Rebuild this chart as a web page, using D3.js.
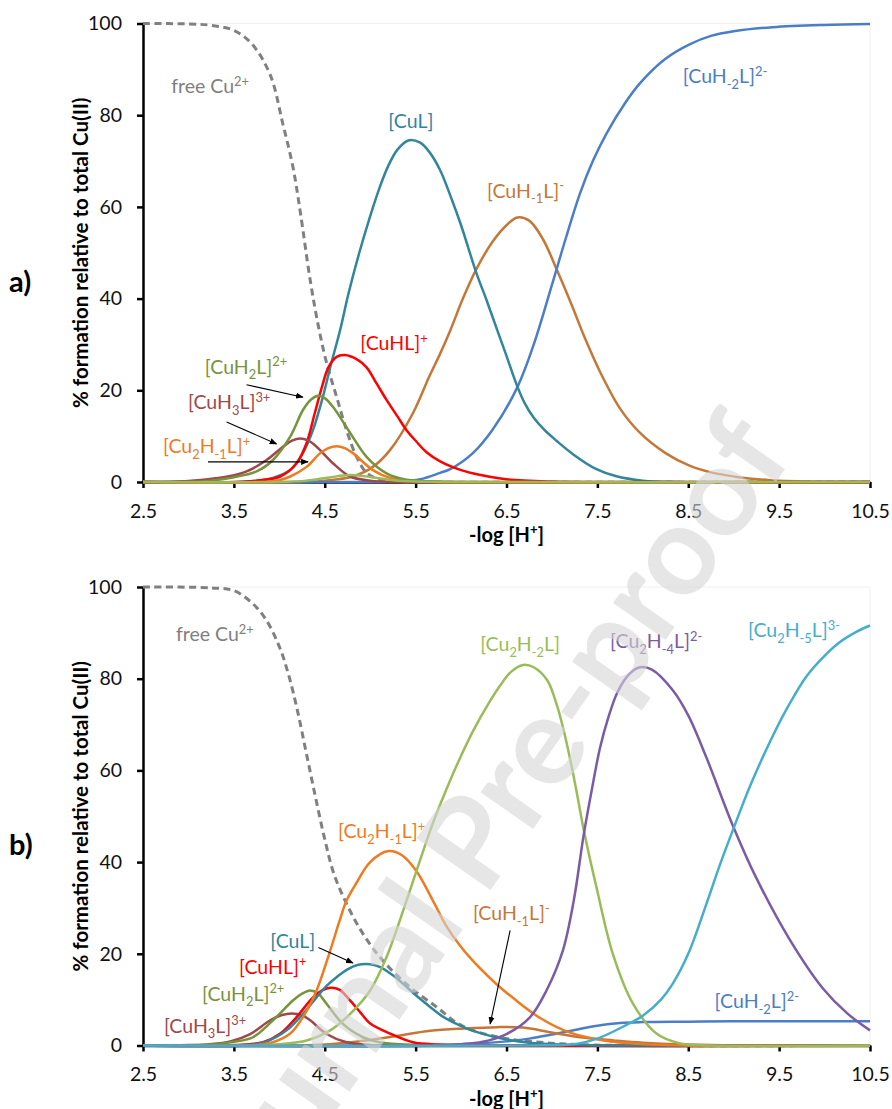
<!DOCTYPE html>
<html>
<head>
<meta charset="utf-8">
<script src="https://cdn.jsdelivr.net/npm/d3@7"></script>
<style>
  body { margin: 0; background: #fff; }
  svg text { font-family: Lato, "Open Sans", sans-serif; }
</style>
</head>
<body>
<div id="main"></div>
<script>
// ---------- data: [ -log[H+], % of total Cu(II) ] ----------
// panel a)
const aFree = [[2.5,100],[3.0,99.9],[3.25,99.6],[3.5,98.5],[3.7,95.5],[3.9,88.8],[4.04,78],[4.15,68.7],[4.23,59],[4.34,44],[4.43,34],[4.52,26],[4.63,18.6],[4.74,11.3],[4.85,5.5],[4.96,2],[5.1,0.6],[5.3,0.1],[5.6,0],[10.5,0]];
const aCuL = [[2.5,0],[3.6,0],[3.93,0.9],[4.12,2.6],[4.26,6.3],[4.37,11.3],[4.48,18.6],[4.56,25],[4.67,33.2],[4.76,41],[4.88,50],[5.0,58],[5.1,64],[5.2,69],[5.3,72.5],[5.42,74.5],[5.55,74],[5.65,72],[5.77,68],[5.9,61.5],[6.0,56],[6.17,45.5],[6.28,39.7],[6.4,33],[6.5,27.5],[6.61,21.3],[6.7,17.2],[6.8,14],[6.92,11.3],[7.05,9],[7.25,5.8],[7.49,2.8],[7.7,1.3],[8.0,0.3],[8.4,0],[10.5,0]];
const aCuH1L = [[2.5,0],[4.3,0],[4.6,0.5],[4.81,1.2],[5.03,3.3],[5.22,7],[5.47,15],[5.65,23],[5.77,28],[5.88,33],[6.02,40],[6.17,46.5],[6.35,52.5],[6.5,56],[6.62,57.7],[6.75,57],[6.9,53],[7.06,46],[7.22,38.5],[7.35,32],[7.53,24],[7.75,16],[7.97,10.7],[8.25,6.3],[8.52,3.5],[8.75,2.1],[9.07,1.0],[9.4,0.4],[10.0,0.05],[10.5,0]];
const aCuH2L_ = [[2.5,0],[5.0,0],[5.3,0.1],[5.55,0.6],[5.77,2],[5.88,2.8],[6.13,6.3],[6.35,11.5],[6.62,20.7],[6.8,30],[7.0,43],[7.15,53],[7.31,63],[7.45,70],[7.6,76],[7.8,82.5],[7.97,87],[8.25,92.3],[8.52,95.5],[8.75,97.3],[9.0,98.3],[9.43,99.2],[10.0,99.7],[10.5,99.9]];
const aCuHL = [[2.5,0],[3.5,0],[3.75,0.3],[4.01,1.2],[4.19,4.1],[4.3,8.5],[4.39,15],[4.47,20.8],[4.54,25],[4.63,27.3],[4.72,27.7],[4.85,26.8],[4.96,25],[5.07,21.5],[5.18,17.9],[5.3,14.3],[5.4,11.3],[5.5,9],[5.62,6.5],[5.77,4.5],[6.0,2.6],[6.2,1.6],[6.5,0.6],[7.0,0.1],[7.5,0],[10.5,0]];
const aCuH2L = [[2.5,0],[3.0,0.05],[3.25,0.3],[3.49,1],[3.75,2.3],[3.93,4.8],[4.12,9.9],[4.26,15.7],[4.35,18],[4.43,18.8],[4.5,18.3],[4.59,16.4],[4.78,10.7],[4.96,5.5],[5.18,1.9],[5.4,0.5],[5.75,0.1],[6.0,0],[10.5,0]];
const aCuH3L = [[2.5,0],[3.0,0.2],[3.3,0.8],[3.49,1.4],[3.64,2.3],[3.86,4.8],[4.04,7.7],[4.14,9.0],[4.23,9.5],[4.32,9.0],[4.41,7.7],[4.59,4.1],[4.78,1.2],[5.0,0.3],[5.25,0],[10.5,0]];
const aCu2H1L = [[2.5,0],[3.75,0],[4.0,0.4],[4.12,1.2],[4.3,3.3],[4.45,6.3],[4.54,7.4],[4.63,7.8],[4.72,7.4],[4.81,6.3],[5.03,2.6],[5.22,0.9],[5.5,0.2],[5.75,0],[10.5,0]];
const aCu2H2L = [[2.5,0],[4.0,0],[4.3,0.3],[4.55,1],[4.78,1.5],[5.0,1.1],[5.25,0.4],[5.5,0.1],[6.0,0],[10.5,0]];

// panel b)
const bFree = [[2.5,100],[3.25,99.8],[3.5,99.2],[3.7,96.5],[3.85,93],[4.0,87],[4.1,81],[4.2,73],[4.3,63.5],[4.4,54],[4.5,45],[4.6,37.5],[4.75,30.5],[4.92,24.4],[5.14,18.5],[5.44,12.7],[5.73,8.4],[5.95,5],[6.13,3.3],[6.5,1.5],[6.87,0.7],[7.3,0.2],[8.0,0],[10.5,0]];
const bCu2H1L = [[2.5,0],[3.75,0.1],[3.93,0.7],[4.12,2.6],[4.26,6.2],[4.41,12],[4.56,20.7],[4.66,27],[4.74,31.6],[4.85,35.5],[5.0,40],[5.2,42.4],[5.35,41.5],[5.51,38],[5.69,31.6],[5.84,26],[6.0,21.5],[6.21,16.8],[6.4,13.2],[6.57,10.4],[6.87,6],[7.2,2.8],[7.57,1.1],[8.0,0.3],[8.5,0],[10.5,0]];
const bCu2H2L = [[2.5,0],[3.75,0],[4.0,0.3],[4.3,1.1],[4.56,3.3],[4.78,6.9],[5.0,12],[5.18,19.3],[5.4,31.6],[5.55,40.5],[5.69,48.5],[5.8,54],[5.95,61],[6.13,68.5],[6.3,74.5],[6.43,78.5],[6.55,81.5],[6.68,83],[6.8,82.5],[6.95,79.6],[7.05,74.5],[7.12,69.5],[7.2,62.5],[7.27,55.5],[7.35,47],[7.49,34.5],[7.67,20],[7.89,9.2],[8.15,2.6],[8.4,0.5],[8.75,0],[10.5,0]];
const bCu2H4L = [[2.5,0],[5.75,0],[6.0,0.3],[6.21,0.7],[6.5,2.5],[6.76,6.2],[6.94,12],[7.12,20.7],[7.24,31.6],[7.35,46],[7.45,57],[7.53,65],[7.62,71.5],[7.72,77],[7.85,81],[7.97,82.5],[8.1,82],[8.33,77.5],[8.5,72],[8.7,62.8],[8.99,48],[9.25,36.5],[9.62,23],[9.98,12.5],[10.25,7],[10.5,3.3]];
const bCu2H5L = [[2.5,0],[6.75,0],[7.25,0.3],[7.5,1.5],[7.82,4.5],[8.0,6.5],[8.2,10],[8.33,13.5],[8.5,20],[8.7,30.9],[8.85,39.5],[9.03,49],[9.2,57.5],[9.43,67.5],[9.6,74],[9.8,80.5],[10.0,85],[10.17,88],[10.35,90.2],[10.5,91.6]];
const bCuH1L = [[2.5,0],[4.25,0],[4.5,0.2],[4.78,0.7],[5.0,1.2],[5.33,2.2],[5.66,3.2],[6.03,3.7],[6.39,4.0],[6.68,3.9],[6.98,2.9],[7.31,1.8],[7.68,1.1],[8.0,0.6],[8.5,0.2],[9.0,0],[10.5,0]];
const bCuH2L_ = [[2.5,0],[5.5,0],[6.0,0.3],[6.5,0.9],[6.75,1.5],[7.0,2.4],[7.25,3.4],[7.5,4.3],[7.75,4.9],[8.0,5.1],[8.5,5.2],[9.0,5.3],[10.5,5.3]];
const bCuL = [[2.5,0],[3.6,0],[3.85,0.8],[4.08,3.3],[4.26,6.9],[4.41,10.5],[4.52,13],[4.63,14.9],[4.75,16.6],[4.87,17.6],[5.0,17.7],[5.11,17.1],[5.25,15.3],[5.36,13.5],[5.5,11],[5.66,8.4],[5.8,6.3],[5.95,4.7],[6.1,3.4],[6.32,2.1],[6.5,1.3],[6.75,0.6],[7.0,0.3],[7.5,0],[10.5,0]];
const bCuHL = [[2.5,0],[3.5,0.1],[3.82,0.7],[4.01,2.6],[4.19,6.2],[4.37,10.5],[4.47,12],[4.56,12.6],[4.66,12.2],[4.78,9.8],[4.9,7],[5.0,4.8],[5.22,2.6],[5.47,0.7],[5.75,0.2],[6.0,0],[10.5,0]];
const bCuH2L = [[2.5,0],[3.25,0.2],[3.5,0.8],[3.71,1.8],[3.93,5.5],[4.15,9.8],[4.25,11.3],[4.34,12],[4.43,11.3],[4.52,9.1],[4.7,4.7],[4.92,1.8],[5.1,0.7],[5.5,0.1],[6.0,0],[10.5,0]];
const bCuH3L = [[2.5,0],[3.0,0.1],[3.25,0.3],[3.46,0.9],[3.68,2.5],[3.9,5.5],[4.02,6.6],[4.14,7.0],[4.25,6.6],[4.34,5.5],[4.52,2.5],[4.74,0.7],[5.0,0.1],[5.5,0],[10.5,0]];

const xTicks = [2.5, 3.5, 4.5, 5.5, 6.5, 7.5, 8.5, 9.5, 10.5];
const yTicks = [0, 20, 40, 60, 80, 100];

// colours per species
const col = {
  free: "#808080", CuL: "#31859C", CuH1L: "#C47838", CuH2L_: "#4A7EC6",
  CuHL: "#FF0000", CuH2L: "#77933C", CuH3L: "#A0474A", Cu2H1L: "#EE7B1F",
  Cu2H2L: "#9BBB59", Cu2H4L: "#7A5BA6", Cu2H5L: "#45AECB"
};

// ---------- layout ----------
const width = 892, height = 1109;
const labelSize = 19.5;
const svg = d3.select("#main").append("svg")
  .attr("width", width).attr("height", height);

const x = d3.scaleLinear().domain([2.5, 10.5]).range([143, 870]);
const line = (y) => d3.line().x(d => x(d[0])).y(d => y(d[1]))
  .curve(d3.curveCatmullRom.alpha(0.5));

// writes "[CuH_{-2}L]^{2-}" as tspans with sub / superscripts
function richText(t, str, fs) {
  const parts = str.split(/([_^]\{[^}]*\})/).filter(s => s.length);
  let cur = 0;
  parts.forEach(p => {
    let target = 0, txt = p, size = fs;
    if (p[0] === "_") { target = 0.28 * fs; txt = p.slice(2, -1); size = fs * 0.66; }
    else if (p[0] === "^") { target = -0.38 * fs; txt = p.slice(2, -1); size = fs * 0.66; }
    t.append("tspan").attr("dy", target - cur).attr("font-size", size).text(txt);
    cur = target;
  });
}

svg.append("defs").append("marker")
  .attr("id", "arr").attr("viewBox", "0 0 10 10").attr("refX", 9).attr("refY", 5)
  .attr("markerWidth", 7).attr("markerHeight", 7).attr("orient", "auto")
  .append("path").attr("d", "M0,1 L10,5 L0,9 Z").attr("fill", "#000");

function panel(top, letter, series, labels, arrows) {
  const y = d3.scaleLinear().domain([0, 100]).range([top + 458.5, top]);
  const g = svg.append("g");

  // faint plot area frame
  g.append("rect").attr("x", x(2.5)).attr("y", y(100))
    .attr("width", x(10.5) - x(2.5)).attr("height", y(0) - y(100))
    .attr("fill", "none").attr("stroke", "#f0f0f0");

  const xa = g.append("g").attr("transform", `translate(0,${y(0)})`)
    .call(d3.axisBottom(x).tickValues(xTicks).tickFormat(d3.format(".1f"))
      .tickSize(6).tickSizeOuter(0).tickPadding(16));
  const ya = g.append("g").attr("transform", `translate(${x(2.5)},0)`)
    .call(d3.axisLeft(y).tickValues(yTicks).tickSize(6).tickSizeOuter(0).tickPadding(15));
  [xa, ya].forEach(a => {
    a.select(".domain").attr("stroke", "#000").attr("stroke-width", 2.5);
    a.selectAll(".tick line").attr("stroke", "#000").attr("stroke-width", 2.5);
    a.selectAll(".tick text").attr("font-size", 19.5).attr("fill", "#111")
      .style("font-family", "Lato, sans-serif");
  });

  // axis titles
  const xt = g.append("text").attr("x", (x(2.5) + x(10.5)) / 2).attr("y", y(0) + 60)
    .attr("text-anchor", "middle").attr("font-size", 20).attr("font-weight", "bold");
  richText(xt, "-log [H^{+}]", 20);
  g.append("text")
    .attr("transform", `translate(88,${(y(0) + y(100)) / 2}) rotate(-90)`)
    .attr("text-anchor", "middle").attr("font-size", 20.5).attr("font-weight", "bold")
    .text("% formation relative to total Cu(II)");
  g.append("text").attr("x", 9).attr("y", top + 268).attr("font-size", 29)
    .attr("font-weight", "bold").text(letter);

  // curves
  series.forEach(s => {
    g.append("path").datum(s.data).attr("d", line(y))
      .attr("fill", "none").attr("stroke", col[s.key])
      .attr("stroke-width", s.dash ? 3 : 2.5)
      .attr("stroke-dasharray", s.dash ? "7,4.5" : null);
  });

  // species labels
  labels.forEach(l => {
    const t = g.append("text").attr("x", x(l.at[0])).attr("y", y(l.at[1]))
      .attr("fill", col[l.key]).attr("font-size", labelSize);
    richText(t, l.text, labelSize);
  });
  arrows.forEach(a => {
    g.append("line").attr("x1", x(a[0][0])).attr("y1", y(a[0][1]))
      .attr("x2", x(a[1][0])).attr("y2", y(a[1][1]))
      .attr("stroke", "#000").attr("stroke-width", 1.1).attr("marker-end", "url(#arr)");
  });
}

panel(23.5, "a)",
  [
    { key: "free", data: aFree, dash: true },
    { key: "CuH1L", data: aCuH1L }, { key: "CuH2L_", data: aCuH2L_ },
    { key: "CuL", data: aCuL }, { key: "CuHL", data: aCuHL },
    { key: "CuH3L", data: aCuH3L }, { key: "Cu2H1L", data: aCu2H1L },
    { key: "CuH2L", data: aCuH2L }, { key: "Cu2H2L", data: aCu2H2L }
  ],
  [
    { key: "free", text: "free Cu^{2+}", at: [2.81, 84.8] },
    { key: "CuL", text: "[CuL]", at: [5.2, 77.2] },
    { key: "CuH1L", text: "[CuH_{-1}L]^{-}", at: [6.285, 62] },
    { key: "CuH2L_", text: "[CuH_{-2}L]^{2-}", at: [8.44, 87] },
    { key: "CuHL", text: "[CuHL]^{+}", at: [4.89, 28.8] },
    { key: "CuH2L", text: "[CuH_{2}L]^{2+}", at: [3.18, 23.6] },
    { key: "CuH3L", text: "[CuH_{3}L]^{3+}", at: [2.995, 15.9] },
    { key: "Cu2H1L", text: "[Cu_{2}H_{-1}L]^{+}", at: [2.72, 6.3] }
  ],
  [
    [[3.64, 21.2], [4.26, 18.5]],
    [[3.42, 13.1], [3.97, 8.3]],
    [[3.215, 4.4], [4.316, 4.4]]
  ]);

panel(587, "b)",
  [
    { key: "free", data: bFree, dash: true },
    { key: "CuH2L_", data: bCuH2L_ }, { key: "CuH1L", data: bCuH1L },
    { key: "CuH3L", data: bCuH3L }, { key: "CuH2L", data: bCuH2L },
    { key: "CuHL", data: bCuHL }, { key: "CuL", data: bCuL },
    { key: "Cu2H1L", data: bCu2H1L }, { key: "Cu2H2L", data: bCu2H2L },
    { key: "Cu2H4L", data: bCu2H4L }, { key: "Cu2H5L", data: bCu2H5L }
  ],
  [
    { key: "free", text: "free Cu^{2+}", at: [2.863, 88.2] },
    { key: "Cu2H1L", text: "[Cu_{2}H_{-1}L]^{+}", at: [4.646, 45.2] },
    { key: "Cu2H2L", text: "[Cu_{2}H_{-2}L]", at: [6.21, 86] },
    { key: "Cu2H4L", text: "[Cu_{2}H_{-4}L]^{2-}", at: [7.64, 86.6] },
    { key: "Cu2H5L", text: "[Cu_{2}H_{-5}L]^{3-}", at: [9.157, 89] },
    { key: "CuH1L", text: "[CuH_{-1}L]^{-}", at: [6.13, 27.3] },
    { key: "CuH2L_", text: "[CuH_{-2}L]^{2-}", at: [8.79, 8.1] },
    { key: "CuL", text: "[CuL]", at: [3.9, 21.2] },
    { key: "CuHL", text: "[CuHL]^{+}", at: [3.556, 15.7] },
    { key: "CuH2L", text: "[CuH_{2}L]^{2+}", at: [3.149, 9.8] },
    { key: "CuH3L", text: "[CuH_{3}L]^{3+}", at: [2.73, 2.8] }
  ],
  [
    [[4.43, 21.4], [4.81, 18]],
    [[6.54, 25.1], [6.32, 4.7]]
  ]);

// "Journal Pre-proof" watermark across the lower panel
svg.append("text")
  .attr("transform", "translate(795,455) rotate(-55)")
  .attr("text-anchor", "end").attr("font-size", 125).attr("font-weight", "bold")
  .attr("textLength", 980).attr("lengthAdjust", "spacingAndGlyphs")
  .attr("fill", "#d6d6d6").attr("opacity", 0.6)
  .text("Journal Pre-proof");
</script>
</body>
</html>
